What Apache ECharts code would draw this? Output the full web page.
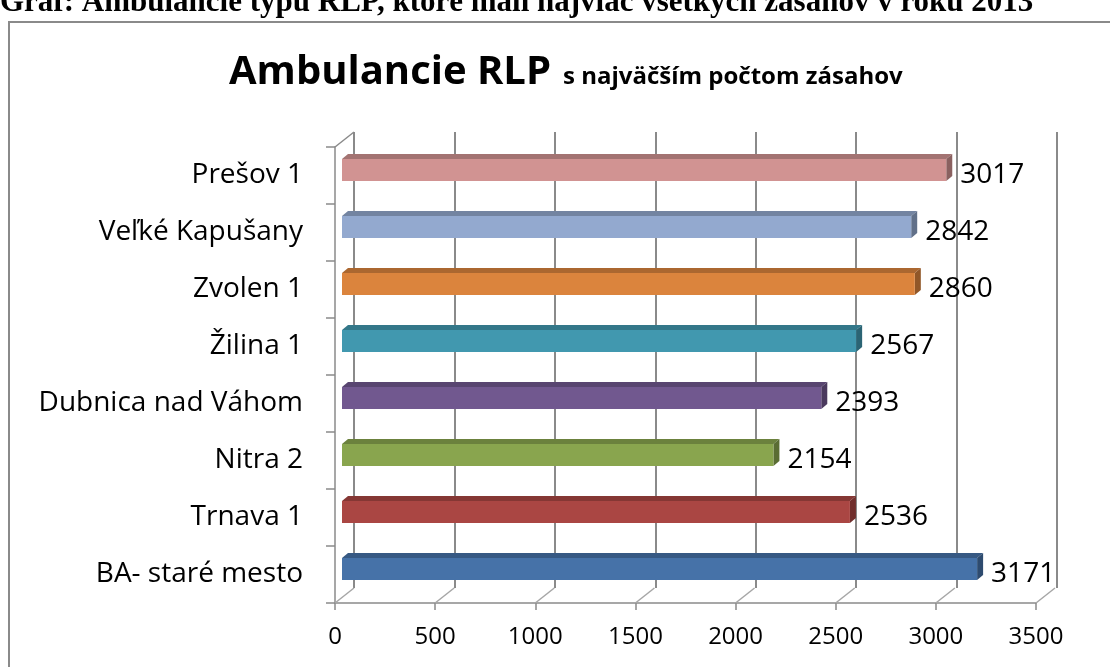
<!DOCTYPE html>
<html>
<head>
<meta charset="utf-8">
<script src="https://cdn.jsdelivr.net/npm/echarts@6/dist/echarts.min.js"></script>
<style>
  html, body { margin: 0; padding: 0; background: #fff; }
  #ec { width: 1110px; height: 667px; }
</style>
</head>
<body>
<div id="ec"></div>
<script>
// data (bottom to top)
const categories = ['BA- staré mesto', 'Trnava 1', 'Nitra 2', 'Dubnica nad Váhom', 'Žilina 1', 'Zvolen 1', 'Veľké Kapušany', 'Prešov 1']
const zasahy = [3171, 2536, 2154, 2393, 2567, 2860, 2842, 3017]
const xTicks = [0, 500, 1000, 1500, 2000, 2500, 3000, 3500]
const barColors = ['#4672A8', '#AA4643', '#89A54E', '#71588F', '#4198AF', '#DB843D', '#93A9CF', '#D19392']

const FONT = '"Open Sans", "Noto Sans", sans-serif'

// 3d helpers
const depth = [19, -15] // front -> back wall
function shade(hex, k) {
  const n = parseInt(hex.slice(1), 16)
  const r = Math.round(((n >> 16) & 255) * k)
  const g = Math.round(((n >> 8) & 255) * k)
  const b = Math.round((n & 255) * k)
  return 'rgb(' + r + ',' + g + ',' + b + ')'
}

function renderBar(params, api) {
  const v = api.value(0)
  const c = api.value(1)
  const p0 = api.coord([0, c])
  const p1 = api.coord([v, c])
  const band = api.size([0, 1])[1]
  const h = band * 0.386
  const sx = 7, sy = -5.5   // bar sits a bit inside the box
  const dx = 6, dy = -5     // bar depth
  const x0 = p0[0] + sx
  const x1 = p1[0] + sx
  const yc = p0[1] + sy
  const top = yc - h / 2
  const bot = yc + h / 2
  const col = barColors[params.dataIndex]
  return {
    type: 'group',
    children: [
      {
        type: 'polygon',
        shape: { points: [[x0, top], [x1, top], [x1 + dx, top + dy], [x0 + dx, top + dy]] },
        style: { fill: shade(col, 0.78) }
      },
      {
        type: 'polygon',
        shape: { points: [[x1, top], [x1 + dx, top + dy], [x1 + dx, bot + dy], [x1, bot]] },
        style: { fill: shade(col, 0.66) }
      },
      {
        type: 'rect',
        shape: { x: x0, y: top, width: x1 - x0, height: h },
        style: { fill: col }
      },
      {
        type: 'text',
        x: x1 + dx + 8,
        y: yc + 5,
        style: {
          text: String(v),
          font: '28px ' + FONT,
          fill: '#000',
          textVerticalAlign: 'middle'
        }
      }
    ]
  }
}

// floor diagonals and top-left slant of the left wall
function renderFloor(params, api) {
  const cs = params.coordSys
  const bottom = cs.y + cs.height
  const x = api.coord([api.value(0), 0])[0]
  const lines = [{
    type: 'line',
    shape: { x1: x, y1: bottom, x2: x + depth[0], y2: bottom + depth[1] },
    style: { stroke: '#a6a6a6', lineWidth: 1.5 }
  }]
  if (params.dataIndex === 0) {
    lines.push({
      type: 'line',
      shape: { x1: cs.x, y1: cs.y, x2: cs.x + depth[0], y2: cs.y + depth[1] },
      style: { stroke: '#8a8a8a', lineWidth: 1.5 }
    })
  }
  return { type: 'group', children: lines }
}

const chart = echarts.init(document.getElementById('ec'))
chart.setOption({
  backgroundColor: '#fff',
  animation: false,
  graphic: [
    {
      type: 'rect',
      shape: { x: 9, y: 22, width: 1200, height: 800 },
      style: { fill: 'none', stroke: '#8a8a8a', lineWidth: 2 }
    },
    {
      type: 'text',
      x: 0,
      y: 18,
      style: {
        text: 'Graf: Ambulancie typu RLP, ktoré mali najviac všetkých zásahov v roku 2013',
        font: 'bold 31px "Liberation Serif", "DejaVu Serif", serif',
        fill: '#000',
        textVerticalAlign: 'bottom'
      }
    },
    {
      type: 'text',
      x: 229,
      y: 93,
      style: {
        text: 'Ambulancie RLP',
        font: 'bold 40px ' + FONT,
        fill: '#000',
        textVerticalAlign: 'bottom'
      }
    },
    {
      type: 'text',
      x: 563,
      y: 89,
      style: {
        text: 's najväčším počtom zásahov',
        font: 'bold 24px ' + FONT,
        fill: '#000',
        textVerticalAlign: 'bottom'
      }
    }
  ],
  grid: [
    // back wall
    { left: 354, top: 132, width: 703, height: 456 },
    // front plane
    { left: 335, top: 147, width: 701, height: 456 }
  ],
  xAxis: [
    {
      gridIndex: 0,
      type: 'value',
      min: 0,
      max: 3500,
      interval: 500,
      axisLine: { show: false },
      axisTick: { show: false },
      axisLabel: { show: false },
      splitLine: { show: true, lineStyle: { color: '#8a8a8a', width: 2 } }
    },
    {
      gridIndex: 1,
      type: 'value',
      min: 0,
      max: 3500,
      interval: 500,
      axisLine: { show: true, lineStyle: { color: '#8a8a8a', width: 1.5 } },
      axisTick: { show: true, length: 7, lineStyle: { color: '#8a8a8a', width: 1.5 } },
      axisLabel: {
        color: '#000',
        fontSize: 24,
        fontFamily: FONT,
        margin: 22,
        formatter: v => String(v)
      },
      splitLine: { show: false }
    }
  ],
  yAxis: [
    {
      gridIndex: 0,
      type: 'category',
      data: categories,
      show: false
    },
    {
      gridIndex: 1,
      type: 'category',
      data: categories,
      axisLine: { show: true, lineStyle: { color: '#8a8a8a', width: 1.5 } },
      axisTick: { show: true, length: 9, lineStyle: { color: '#8a8a8a', width: 1.5 } },
      axisLabel: { color: '#000', fontSize: 28, fontFamily: FONT, margin: 32 },
      splitLine: { show: false }
    }
  ],
  series: [
    {
      type: 'custom',
      xAxisIndex: 1,
      yAxisIndex: 1,
      renderItem: renderFloor,
      data: xTicks.map(t => [t]),
      silent: true,
      z: 1
    },
    {
      type: 'custom',
      xAxisIndex: 1,
      yAxisIndex: 1,
      renderItem: renderBar,
      data: zasahy.map((v, i) => [v, i]),
      z: 5
    }
  ]
})
window.addEventListener('resize', () => chart.resize())
</script>
</body>
</html>
